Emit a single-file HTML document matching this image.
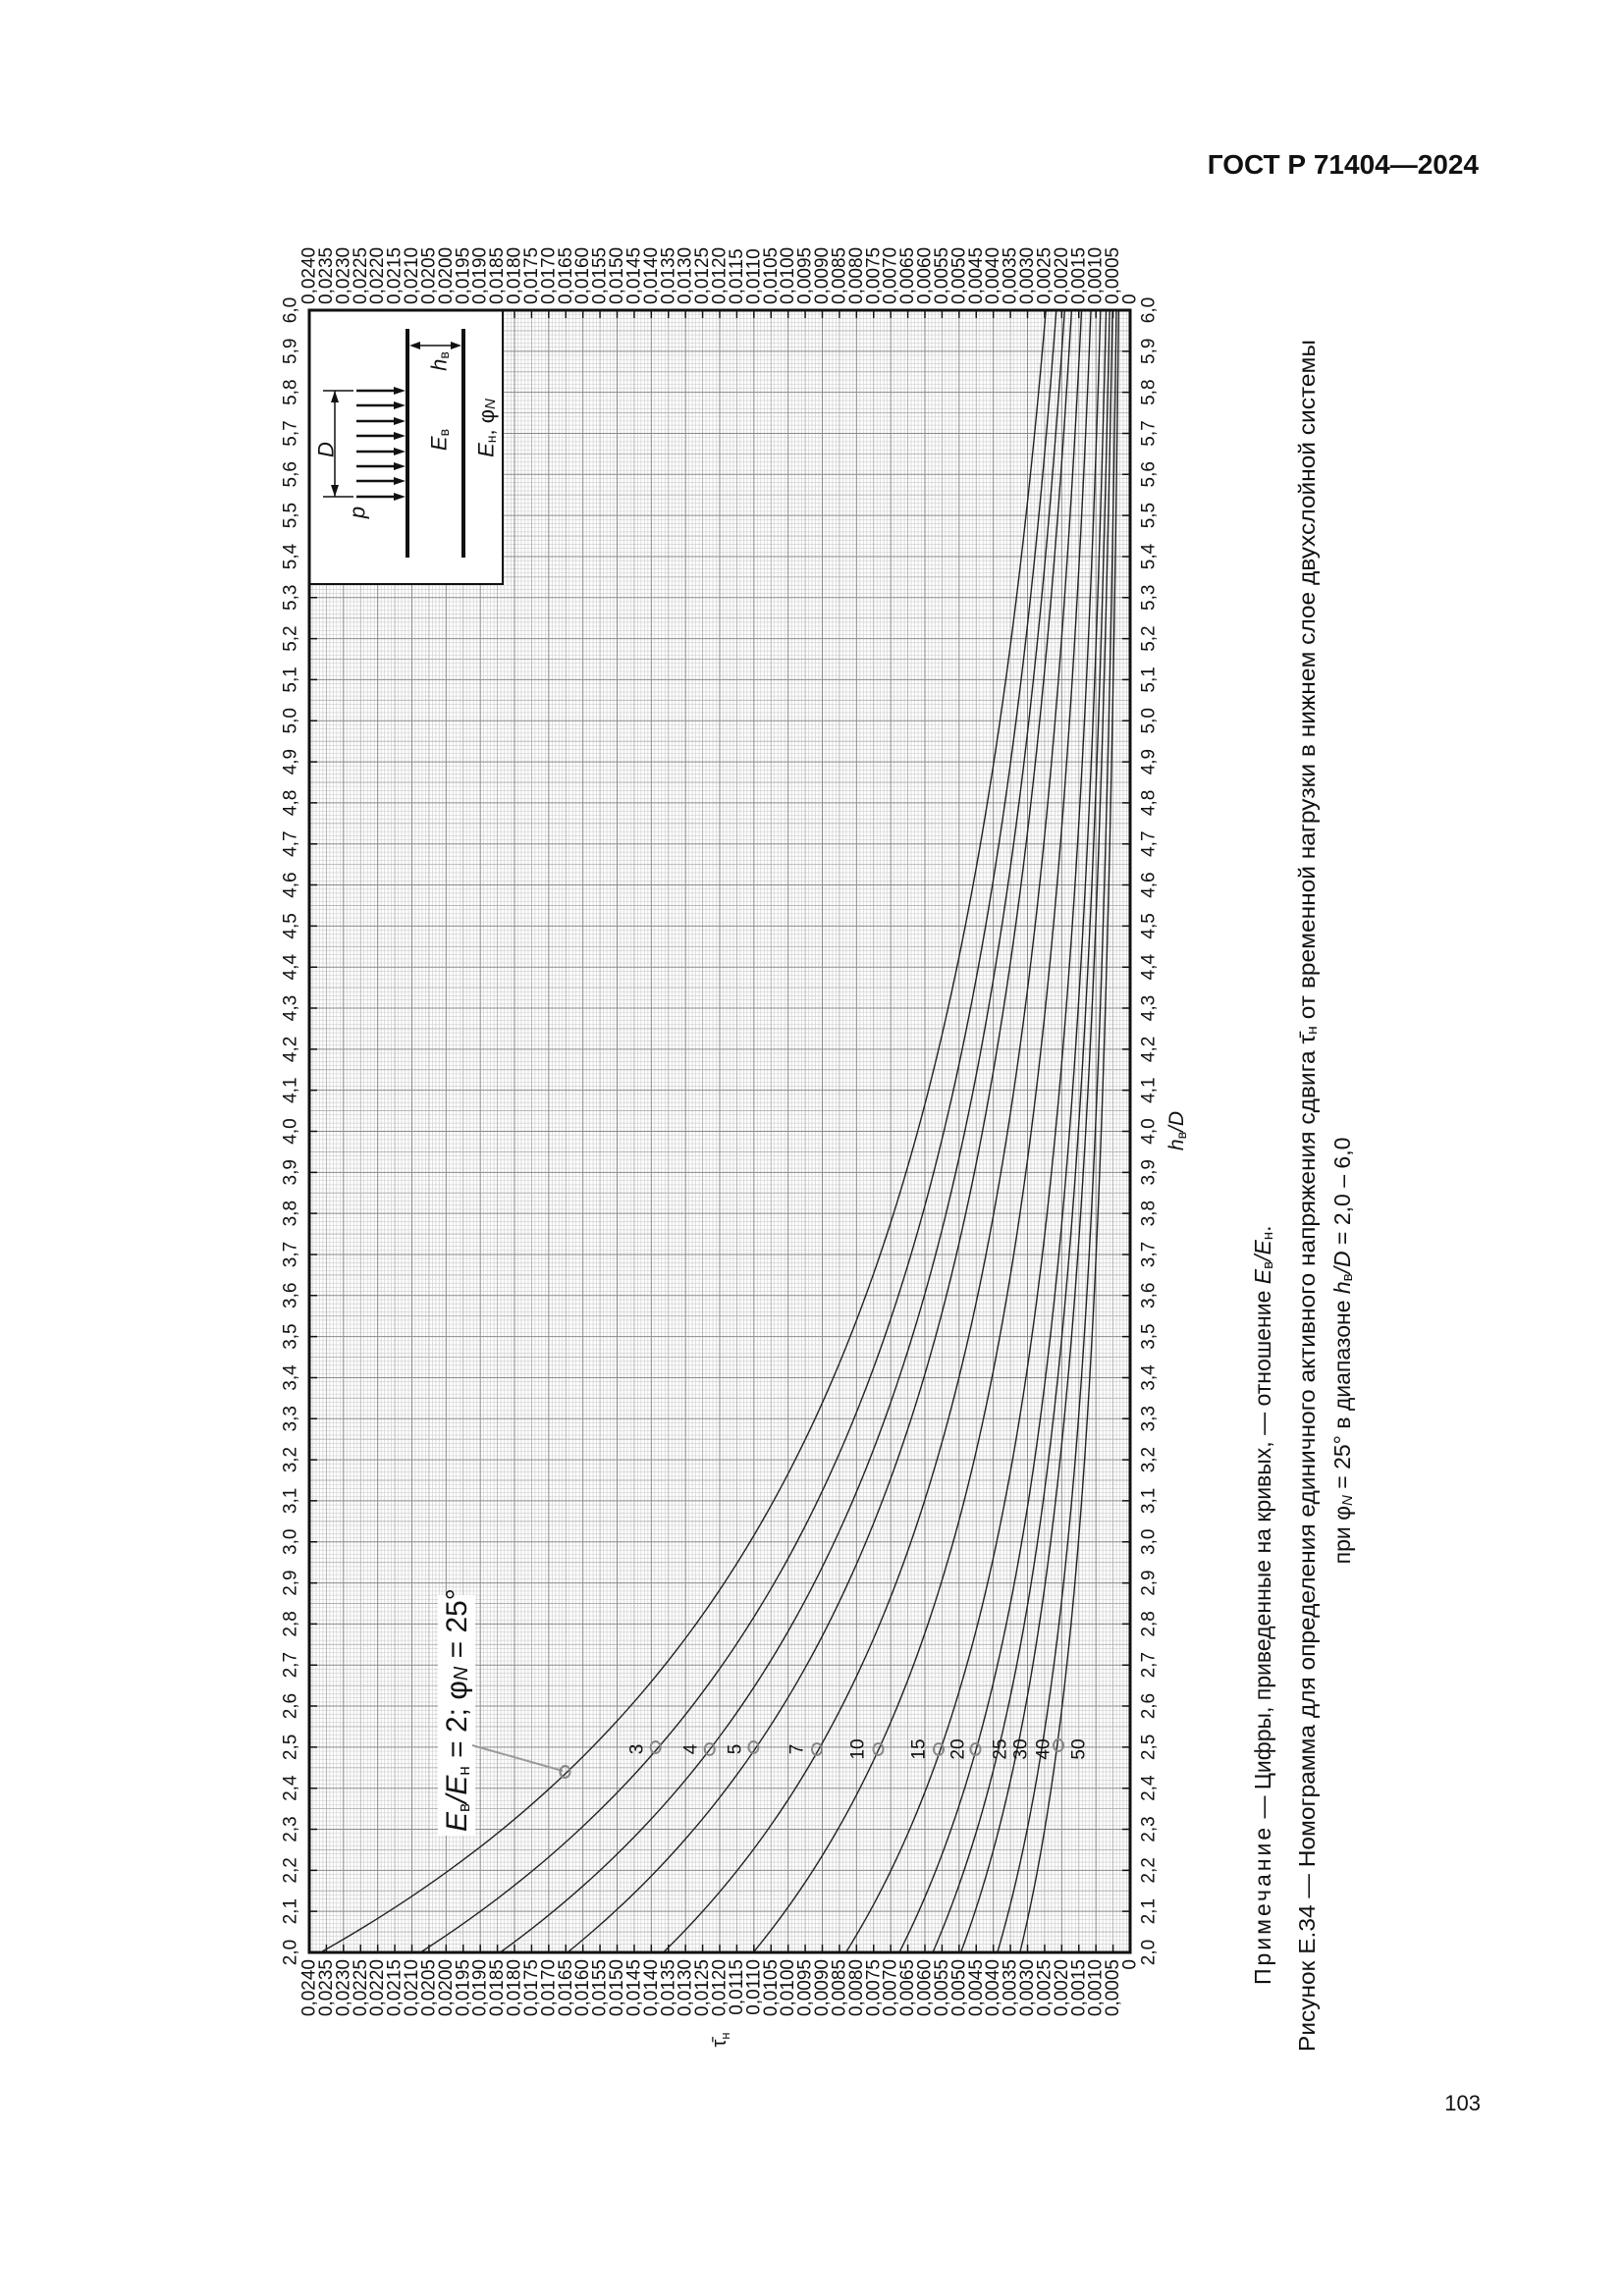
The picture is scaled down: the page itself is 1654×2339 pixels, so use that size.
<!DOCTYPE html>
<html><head><meta charset="utf-8"><style>
html,body{margin:0;padding:0;background:#fff}
svg{display:block}
text{font-family:"Liberation Sans",sans-serif;fill:#111}
</style></head><body>
<svg id="s" width="1654" height="2339" viewBox="0 0 1654 2339" xmlns="http://www.w3.org/2000/svg">
<rect width="1654" height="2339" fill="#fff"/>
<text x="1506" y="177" text-anchor="end" font-size="28" font-weight="bold">ГОСТ Р 71404—2024</text>
<text x="1508" y="2150" text-anchor="end" font-size="22">103</text>
<g id="grid"></g>
<g id="curves"></g>
<!-- inset -->
<rect x="315" y="316" width="197" height="279" fill="#fff" stroke="#111" stroke-width="2"/>
<g stroke="#111" fill="none">
<line x1="415" y1="335" x2="415" y2="568" stroke-width="4"/>
<line x1="472" y1="335" x2="472" y2="568" stroke-width="4"/>
<line x1="341" y1="398" x2="341" y2="506" stroke-width="1.5"/>
<line x1="329" y1="398" x2="360" y2="398" stroke-width="1.5"/>
<line x1="329" y1="506" x2="360" y2="506" stroke-width="1.5"/>
<line x1="420" y1="352" x2="467" y2="352" stroke-width="1.5"/>
</g>
<g fill="#111">
<polygon points="341,398 337,410 345,410"/><polygon points="341,506 337,494 345,494"/>
<polygon points="417,352 428,348 428,356"/><polygon points="470,352 459,348 459,356"/>
</g>
<g id="arrows" stroke="#111" stroke-width="2.5"></g>
<g font-style="italic" font-size="22">
<text transform="translate(332,458) rotate(-90)" text-anchor="middle" dominant-baseline="central">D</text>
<text transform="translate(364,522) rotate(-90)" text-anchor="middle" dominant-baseline="central">p</text>
<text transform="translate(447,448) rotate(-90)" text-anchor="middle" dominant-baseline="central">E<tspan font-size="14" font-style="normal" dy="5">в</tspan></text>
<text transform="translate(447,368) rotate(-90)" text-anchor="middle" dominant-baseline="central">h<tspan font-size="14" font-style="normal" dy="5">в</tspan></text>
<text transform="translate(495,436) rotate(-90)" text-anchor="middle" dominant-baseline="central">E<tspan font-size="14" font-style="normal" dy="5">н</tspan><tspan dy="-5" font-style="normal">, φ</tspan><tspan font-size="15" dy="4">N</tspan></text>
</g>
<!-- frame -->
<rect x="315" y="316" width="836" height="1673" fill="none" stroke="#111" stroke-width="3"/>
<!-- label box -->
<rect x="446" y="1625" width="38" height="245" fill="#fff"/>
<line x1="481" y1="1778" x2="573" y2="1804" stroke="#999" stroke-width="2"/>
<text transform="translate(465,1866) rotate(-90)" font-size="30" dominant-baseline="central"><tspan font-style="italic">E</tspan><tspan font-size="17" dy="7">в</tspan><tspan dy="-7" font-style="italic">/E</tspan><tspan font-size="17" dy="7">н</tspan><tspan dy="-7"> = 2; φ</tspan><tspan font-size="20" font-style="italic" dy="5">N</tspan><tspan dy="-5"> = 25°</tspan></text>
<g font-size="19" text-anchor="middle" dominant-baseline="central">
<text transform="translate(649,1782) rotate(-90)">3</text>
<text transform="translate(704,1782) rotate(-90)">4</text>
<text transform="translate(749,1782) rotate(-90)">5</text>
<text transform="translate(812,1782) rotate(-90)">7</text>
<text transform="translate(874,1782) rotate(-90)">10</text>
<text transform="translate(936,1782) rotate(-90)">15</text>
<text transform="translate(976,1782) rotate(-90)">20</text>
<text transform="translate(1019,1782) rotate(-90)">25</text>
<text transform="translate(1040,1782) rotate(-90)">30</text>
<text transform="translate(1063,1782) rotate(-90)">40</text>
<text transform="translate(1099,1782) rotate(-90)">50</text>
</g>
<g id="markers" fill="#fff" stroke="#888" stroke-width="2"></g>
<!-- top tau labels -->
<g font-size="19" dominant-baseline="central" text-anchor="start">
<text transform="translate(315,310) rotate(-90)">0,0240</text>
<text transform="translate(332.4,310) rotate(-90)">0,0235</text>
<text transform="translate(349.8,310) rotate(-90)">0,0230</text>
<text transform="translate(367.3,310) rotate(-90)">0,0225</text>
<text transform="translate(384.7,310) rotate(-90)">0,0220</text>
<text transform="translate(402.1,310) rotate(-90)">0,0215</text>
<text transform="translate(419.5,310) rotate(-90)">0,0210</text>
<text transform="translate(436.9,310) rotate(-90)">0,0205</text>
<text transform="translate(454.3,310) rotate(-90)">0,0200</text>
<text transform="translate(471.8,310) rotate(-90)">0,0195</text>
<text transform="translate(489.2,310) rotate(-90)">0,0190</text>
<text transform="translate(506.6,310) rotate(-90)">0,0185</text>
<text transform="translate(524.0,310) rotate(-90)">0,0180</text>
<text transform="translate(541.4,310) rotate(-90)">0,0175</text>
<text transform="translate(558.8,310) rotate(-90)">0,0170</text>
<text transform="translate(576.3,310) rotate(-90)">0,0165</text>
<text transform="translate(593.7,310) rotate(-90)">0,0160</text>
<text transform="translate(611.1,310) rotate(-90)">0,0155</text>
<text transform="translate(628.5,310) rotate(-90)">0,0150</text>
<text transform="translate(645.9,310) rotate(-90)">0,0145</text>
<text transform="translate(663.3,310) rotate(-90)">0,0140</text>
<text transform="translate(680.8,310) rotate(-90)">0,0135</text>
<text transform="translate(698.2,310) rotate(-90)">0,0130</text>
<text transform="translate(715.6,310) rotate(-90)">0,0125</text>
<text transform="translate(733.0,310) rotate(-90)">0,0120</text>
<text transform="translate(750.4,310) rotate(-90)">0,0115</text>
<text transform="translate(767.8,310) rotate(-90)">0,0110</text>
<text transform="translate(785.3,310) rotate(-90)">0,0105</text>
<text transform="translate(802.7,310) rotate(-90)">0,0100</text>
<text transform="translate(820.1,310) rotate(-90)">0,0095</text>
<text transform="translate(837.5,310) rotate(-90)">0,0090</text>
<text transform="translate(854.9,310) rotate(-90)">0,0085</text>
<text transform="translate(872.3,310) rotate(-90)">0,0080</text>
<text transform="translate(889.8,310) rotate(-90)">0,0075</text>
<text transform="translate(907.2,310) rotate(-90)">0,0070</text>
<text transform="translate(924.6,310) rotate(-90)">0,0065</text>
<text transform="translate(942.0,310) rotate(-90)">0,0060</text>
<text transform="translate(959.4,310) rotate(-90)">0,0055</text>
<text transform="translate(976.8,310) rotate(-90)">0,0050</text>
<text transform="translate(994.3,310) rotate(-90)">0,0045</text>
<text transform="translate(1011.7,310) rotate(-90)">0,0040</text>
<text transform="translate(1029.1,310) rotate(-90)">0,0035</text>
<text transform="translate(1046.5,310) rotate(-90)">0,0030</text>
<text transform="translate(1063.9,310) rotate(-90)">0,0025</text>
<text transform="translate(1081.3,310) rotate(-90)">0,0020</text>
<text transform="translate(1098.8,310) rotate(-90)">0,0015</text>
<text transform="translate(1116.2,310) rotate(-90)">0,0010</text>
<text transform="translate(1133.6,310) rotate(-90)">0,0005</text>
<text transform="translate(1151,310) rotate(-90)">0</text>
</g>
<!-- bottom tau labels -->
<g font-size="19" dominant-baseline="central" text-anchor="end">
<text transform="translate(315,1996) rotate(-90)">0,0240</text>
<text transform="translate(332.4,1996) rotate(-90)">0,0235</text>
<text transform="translate(349.8,1996) rotate(-90)">0,0230</text>
<text transform="translate(367.3,1996) rotate(-90)">0,0225</text>
<text transform="translate(384.7,1996) rotate(-90)">0,0220</text>
<text transform="translate(402.1,1996) rotate(-90)">0,0215</text>
<text transform="translate(419.5,1996) rotate(-90)">0,0210</text>
<text transform="translate(436.9,1996) rotate(-90)">0,0205</text>
<text transform="translate(454.3,1996) rotate(-90)">0,0200</text>
<text transform="translate(471.8,1996) rotate(-90)">0,0195</text>
<text transform="translate(489.2,1996) rotate(-90)">0,0190</text>
<text transform="translate(506.6,1996) rotate(-90)">0,0185</text>
<text transform="translate(524.0,1996) rotate(-90)">0,0180</text>
<text transform="translate(541.4,1996) rotate(-90)">0,0175</text>
<text transform="translate(558.8,1996) rotate(-90)">0,0170</text>
<text transform="translate(576.3,1996) rotate(-90)">0,0165</text>
<text transform="translate(593.7,1996) rotate(-90)">0,0160</text>
<text transform="translate(611.1,1996) rotate(-90)">0,0155</text>
<text transform="translate(628.5,1996) rotate(-90)">0,0150</text>
<text transform="translate(645.9,1996) rotate(-90)">0,0145</text>
<text transform="translate(663.3,1996) rotate(-90)">0,0140</text>
<text transform="translate(680.8,1996) rotate(-90)">0,0135</text>
<text transform="translate(698.2,1996) rotate(-90)">0,0130</text>
<text transform="translate(715.6,1996) rotate(-90)">0,0125</text>
<text transform="translate(733.0,1996) rotate(-90)">0,0120</text>
<text transform="translate(750.4,1996) rotate(-90)">0,0115</text>
<text transform="translate(767.8,1996) rotate(-90)">0,0110</text>
<text transform="translate(785.3,1996) rotate(-90)">0,0105</text>
<text transform="translate(802.7,1996) rotate(-90)">0,0100</text>
<text transform="translate(820.1,1996) rotate(-90)">0,0095</text>
<text transform="translate(837.5,1996) rotate(-90)">0,0090</text>
<text transform="translate(854.9,1996) rotate(-90)">0,0085</text>
<text transform="translate(872.3,1996) rotate(-90)">0,0080</text>
<text transform="translate(889.8,1996) rotate(-90)">0,0075</text>
<text transform="translate(907.2,1996) rotate(-90)">0,0070</text>
<text transform="translate(924.6,1996) rotate(-90)">0,0065</text>
<text transform="translate(942.0,1996) rotate(-90)">0,0060</text>
<text transform="translate(959.4,1996) rotate(-90)">0,0055</text>
<text transform="translate(976.8,1996) rotate(-90)">0,0050</text>
<text transform="translate(994.3,1996) rotate(-90)">0,0045</text>
<text transform="translate(1011.7,1996) rotate(-90)">0,0040</text>
<text transform="translate(1029.1,1996) rotate(-90)">0,0035</text>
<text transform="translate(1046.5,1996) rotate(-90)">0,0030</text>
<text transform="translate(1063.9,1996) rotate(-90)">0,0025</text>
<text transform="translate(1081.3,1996) rotate(-90)">0,0020</text>
<text transform="translate(1098.8,1996) rotate(-90)">0,0015</text>
<text transform="translate(1116.2,1996) rotate(-90)">0,0010</text>
<text transform="translate(1133.6,1996) rotate(-90)">0,0005</text>
<text transform="translate(1151,1996) rotate(-90)">0</text>
</g>
<text transform="translate(733,2078) rotate(-90)" font-size="20" text-anchor="middle" dominant-baseline="central">τ̄<tspan font-size="13" dy="5">н</tspan></text>
<!-- h labels left & right -->
<g font-size="19" text-anchor="middle" dominant-baseline="central" id="hl">
<text transform="translate(296,1989) rotate(-90)">2,0</text><text transform="translate(1170,1989) rotate(-90)">2,0</text>
<text transform="translate(296,1947.2) rotate(-90)">2,1</text><text transform="translate(1170,1947.2) rotate(-90)">2,1</text>
<text transform="translate(296,1905.4) rotate(-90)">2,2</text><text transform="translate(1170,1905.4) rotate(-90)">2,2</text>
<text transform="translate(296,1863.5) rotate(-90)">2,3</text><text transform="translate(1170,1863.5) rotate(-90)">2,3</text>
<text transform="translate(296,1821.7) rotate(-90)">2,4</text><text transform="translate(1170,1821.7) rotate(-90)">2,4</text>
<text transform="translate(296,1779.9) rotate(-90)">2,5</text><text transform="translate(1170,1779.9) rotate(-90)">2,5</text>
<text transform="translate(296,1738.1) rotate(-90)">2,6</text><text transform="translate(1170,1738.1) rotate(-90)">2,6</text>
<text transform="translate(296,1696.2) rotate(-90)">2,7</text><text transform="translate(1170,1696.2) rotate(-90)">2,7</text>
<text transform="translate(296,1654.4) rotate(-90)">2,8</text><text transform="translate(1170,1654.4) rotate(-90)">2,8</text>
<text transform="translate(296,1612.6) rotate(-90)">2,9</text><text transform="translate(1170,1612.6) rotate(-90)">2,9</text>
<text transform="translate(296,1570.8) rotate(-90)">3,0</text><text transform="translate(1170,1570.8) rotate(-90)">3,0</text>
<text transform="translate(296,1528.9) rotate(-90)">3,1</text><text transform="translate(1170,1528.9) rotate(-90)">3,1</text>
<text transform="translate(296,1487.1) rotate(-90)">3,2</text><text transform="translate(1170,1487.1) rotate(-90)">3,2</text>
<text transform="translate(296,1445.3) rotate(-90)">3,3</text><text transform="translate(1170,1445.3) rotate(-90)">3,3</text>
<text transform="translate(296,1403.5) rotate(-90)">3,4</text><text transform="translate(1170,1403.5) rotate(-90)">3,4</text>
<text transform="translate(296,1361.6) rotate(-90)">3,5</text><text transform="translate(1170,1361.6) rotate(-90)">3,5</text>
<text transform="translate(296,1319.8) rotate(-90)">3,6</text><text transform="translate(1170,1319.8) rotate(-90)">3,6</text>
<text transform="translate(296,1278) rotate(-90)">3,7</text><text transform="translate(1170,1278) rotate(-90)">3,7</text>
<text transform="translate(296,1236.2) rotate(-90)">3,8</text><text transform="translate(1170,1236.2) rotate(-90)">3,8</text>
<text transform="translate(296,1194.3) rotate(-90)">3,9</text><text transform="translate(1170,1194.3) rotate(-90)">3,9</text>
<text transform="translate(296,1152.5) rotate(-90)">4,0</text><text transform="translate(1170,1152.5) rotate(-90)">4,0</text>
<text transform="translate(296,1110.7) rotate(-90)">4,1</text><text transform="translate(1170,1110.7) rotate(-90)">4,1</text>
<text transform="translate(296,1068.9) rotate(-90)">4,2</text><text transform="translate(1170,1068.9) rotate(-90)">4,2</text>
<text transform="translate(296,1027) rotate(-90)">4,3</text><text transform="translate(1170,1027) rotate(-90)">4,3</text>
<text transform="translate(296,985.2) rotate(-90)">4,4</text><text transform="translate(1170,985.2) rotate(-90)">4,4</text>
<text transform="translate(296,943.4) rotate(-90)">4,5</text><text transform="translate(1170,943.4) rotate(-90)">4,5</text>
<text transform="translate(296,901.6) rotate(-90)">4,6</text><text transform="translate(1170,901.6) rotate(-90)">4,6</text>
<text transform="translate(296,859.7) rotate(-90)">4,7</text><text transform="translate(1170,859.7) rotate(-90)">4,7</text>
<text transform="translate(296,817.9) rotate(-90)">4,8</text><text transform="translate(1170,817.9) rotate(-90)">4,8</text>
<text transform="translate(296,776.1) rotate(-90)">4,9</text><text transform="translate(1170,776.1) rotate(-90)">4,9</text>
<text transform="translate(296,734.3) rotate(-90)">5,0</text><text transform="translate(1170,734.3) rotate(-90)">5,0</text>
<text transform="translate(296,692.4) rotate(-90)">5,1</text><text transform="translate(1170,692.4) rotate(-90)">5,1</text>
<text transform="translate(296,650.6) rotate(-90)">5,2</text><text transform="translate(1170,650.6) rotate(-90)">5,2</text>
<text transform="translate(296,608.8) rotate(-90)">5,3</text><text transform="translate(1170,608.8) rotate(-90)">5,3</text>
<text transform="translate(296,567) rotate(-90)">5,4</text><text transform="translate(1170,567) rotate(-90)">5,4</text>
<text transform="translate(296,525.1) rotate(-90)">5,5</text><text transform="translate(1170,525.1) rotate(-90)">5,5</text>
<text transform="translate(296,483.3) rotate(-90)">5,6</text><text transform="translate(1170,483.3) rotate(-90)">5,6</text>
<text transform="translate(296,441.5) rotate(-90)">5,7</text><text transform="translate(1170,441.5) rotate(-90)">5,7</text>
<text transform="translate(296,399.7) rotate(-90)">5,8</text><text transform="translate(1170,399.7) rotate(-90)">5,8</text>
<text transform="translate(296,357.8) rotate(-90)">5,9</text><text transform="translate(1170,357.8) rotate(-90)">5,9</text>
<text transform="translate(296,316) rotate(-90)">6,0</text><text transform="translate(1170,316) rotate(-90)">6,0</text>
</g>
<text transform="translate(1198,1152) rotate(-90)" font-size="21" text-anchor="middle" dominant-baseline="central"><tspan font-style="italic">h</tspan><tspan font-size="14" dy="5">в</tspan><tspan dy="-5" font-style="italic">/D</tspan></text>
<!-- captions -->
<g font-size="23" dominant-baseline="central">
<text transform="translate(1286,2022) rotate(-90)"><tspan letter-spacing="3">Примечание</tspan> — Цифры, приведенные на кривых, — отношение <tspan font-style="italic">E</tspan><tspan font-size="15" dy="5">в</tspan><tspan dy="-5" font-style="italic">/E</tspan><tspan font-size="15" dy="5">н</tspan><tspan dy="-5">.</tspan></text>
<text transform="translate(1331,2090) rotate(-90)" textLength="1744" lengthAdjust="spacingAndGlyphs">Рисунок Е.34 — Номограмма для определения единичного активного напряжения сдвига τ̄<tspan font-size="15" dy="5">н</tspan><tspan dy="-5"> от временной нагрузки в нижнем слое двухслойной системы</tspan></text>
<text transform="translate(1367,1376) rotate(-90)" text-anchor="middle">при φ<tspan font-size="15" font-style="italic" dy="5">N</tspan><tspan dy="-5"> = 25° в диапазоне </tspan><tspan font-style="italic">h</tspan><tspan font-size="15" dy="5">в</tspan><tspan dy="-5" font-style="italic">/D</tspan><tspan> = 2,0 – 6,0</tspan></text>
</g>
<script>
(function(){
var NS="http://www.w3.org/2000/svg";
var X0=315,X1=1151,Y0=316,Y1=1989;
function X(t){return X1-(t/0.024)*(X1-X0);}
function Y(h){return Y1-(h-2)*(Y1-Y0)/4;}
var g=document.getElementById('grid');
var d1="",d2="",d3="";
for(var i=1;i<240;i++){var x=X0+i*(X1-X0)/240;
 if(i%10==0) d3+="M"+x.toFixed(2)+" "+Y0+"V"+Y1;
 else if(i%5==0) d2+="M"+x.toFixed(2)+" "+Y0+"V"+Y1;
 else d1+="M"+x.toFixed(2)+" "+Y0+"V"+Y1;}
for(var j=1;j<400;j++){var y=Y1-j*(Y1-Y0)/400;
 if(j%10==0) d3+="M"+X0+" "+y.toFixed(2)+"H"+X1;
 else if(j%5==0) d2+="M"+X0+" "+y.toFixed(2)+"H"+X1;
 else d1+="M"+X0+" "+y.toFixed(2)+"H"+X1;}
function P(d,c,w,par){var p=document.createElementNS(NS,'path');p.setAttribute('d',d);p.setAttribute('stroke',c);p.setAttribute('stroke-width',w);p.setAttribute('fill','none');(par||g).appendChild(p);}
P(d1,"#d2d2d2",0.7);P(d2,"#b0b0b0",0.9);P(d3,"#8a8a8a",1);
var tk="";
for(var i=1;i<48;i++){var x=X0+i*(X1-X0)/48;tk+="M"+x.toFixed(2)+" "+Y0+"v8M"+x.toFixed(2)+" "+Y1+"v-8";}
for(var j=1;j<40;j++){var y=Y1-j*(Y1-Y0)/40;tk+="M"+X0+" "+y.toFixed(2)+"h8M"+X1+" "+y.toFixed(2)+"h-8";}
P(tk,"#111",1.5);
var c=document.getElementById('curves');
var t2=[0.02367,0.02075,0.01842,0.01645,0.01365,0.01102,0.00831,0.00675,0.00577,0.00495,0.00388,0.00322];
t2.forEach(function(t){var d="";
 for(var k=0;k<=200;k++){var h=2+k*0.02;var n=1.8+0.065*(h-2);var v=t*Math.pow(2/h,n);
  d+=(k?"L":"M")+X(v).toFixed(2)+" "+Y(h).toFixed(2);}
 P(d,"#222",1.4,c);});
var m=document.getElementById('markers');
var mk=[[575.5,1805],[667.7,1780],[722.7,1782],[767.4,1780],[832,1782],[894.5,1782],[956,1782],[993.5,1782],[1078,1778]];
mk.forEach(function(p){var e=document.createElementNS(NS,'ellipse');e.setAttribute('cx',p[0]);e.setAttribute('cy',p[1]);e.setAttribute('rx',5);e.setAttribute('ry',6);e.setAttribute('fill','none');m.appendChild(e);});
var a=document.getElementById('arrows');
[398,413,429,444,460,475,490,506].forEach(function(y){
 var l=document.createElementNS(NS,'line');l.setAttribute('x1',363);l.setAttribute('x2',404);l.setAttribute('y1',y);l.setAttribute('y2',y);a.appendChild(l);
 var pg=document.createElementNS(NS,'polygon');pg.setAttribute('points','413,'+y+' 401,'+(y-4)+' 401,'+(y+4));pg.setAttribute('fill','#111');pg.setAttribute('stroke','none');a.appendChild(pg);});
})();
</script>
</svg>
</body></html>
